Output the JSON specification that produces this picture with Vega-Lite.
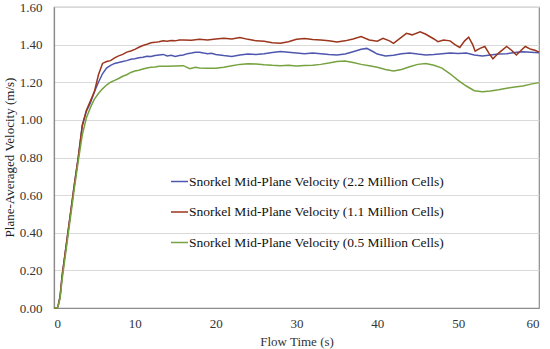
{
  "$schema": "https://vega.github.io/schema/vega-lite/v6.json",
  "width": 485,
  "height": 301,
  "autosize": {"type": "none"},
  "padding": {"left": 54, "top": 7, "right": 11, "bottom": 41},
  "background": "white",
  "config": {
    "font": "Liberation Serif, Times New Roman, serif",
    "view": {"stroke": "#8c8c8c", "strokeWidth": 1.2}
  },
  "data": {"values": [
    {"s":"a","t":0,"v":0},{"s":"a","t":0.4,"v":0},{"s":"a","t":0.5,"v":0.01},{"s":"a","t":0.75,"v":0.06},{"s":"a","t":1,"v":0.17},{"s":"a","t":1.5,"v":0.33},{"s":"a","t":2,"v":0.49},{"s":"a","t":2.5,"v":0.65},{"s":"a","t":3,"v":0.8},{"s":"a","t":3.5,"v":0.97},{"s":"a","t":4,"v":1.045},{"s":"a","t":4.5,"v":1.09},{"s":"a","t":5,"v":1.15},{"s":"a","t":5.5,"v":1.2},{"s":"a","t":6,"v":1.245},{"s":"a","t":6.5,"v":1.275},{"s":"a","t":7,"v":1.29},{"s":"a","t":7.5,"v":1.3},{"s":"a","t":8,"v":1.305},{"s":"a","t":8.5,"v":1.31},{"s":"a","t":9,"v":1.315},{"s":"a","t":9.5,"v":1.322},{"s":"a","t":10,"v":1.325},{"s":"a","t":10.5,"v":1.33},{"s":"a","t":11,"v":1.333},{"s":"a","t":11.5,"v":1.338},{"s":"a","t":12,"v":1.337},{"s":"a","t":12.5,"v":1.342},{"s":"a","t":13,"v":1.345},{"s":"a","t":13.5,"v":1.348},{"s":"a","t":14,"v":1.34},{"s":"a","t":14.5,"v":1.343},{"s":"a","t":15,"v":1.337},{"s":"a","t":15.5,"v":1.342},{"s":"a","t":16,"v":1.345},{"s":"a","t":16.5,"v":1.352},{"s":"a","t":17,"v":1.355},{"s":"a","t":17.5,"v":1.36},{"s":"a","t":18,"v":1.36},{"s":"a","t":18.5,"v":1.355},{"s":"a","t":19,"v":1.352},{"s":"a","t":19.5,"v":1.354},{"s":"a","t":20,"v":1.348},{"s":"a","t":21,"v":1.342},{"s":"a","t":22,"v":1.337},{"s":"a","t":23,"v":1.345},{"s":"a","t":24,"v":1.35},{"s":"a","t":25,"v":1.347},{"s":"a","t":26,"v":1.352},{"s":"a","t":27,"v":1.358},{"s":"a","t":28,"v":1.363},{"s":"a","t":29,"v":1.36},{"s":"a","t":30,"v":1.356},{"s":"a","t":31,"v":1.352},{"s":"a","t":32,"v":1.355},{"s":"a","t":33,"v":1.352},{"s":"a","t":34,"v":1.348},{"s":"a","t":35,"v":1.345},{"s":"a","t":36,"v":1.35},{"s":"a","t":37,"v":1.362},{"s":"a","t":38,"v":1.375},{"s":"a","t":38.7,"v":1.38},{"s":"a","t":39.5,"v":1.362},{"s":"a","t":40,"v":1.35},{"s":"a","t":41,"v":1.34},{"s":"a","t":42,"v":1.343},{"s":"a","t":43,"v":1.352},{"s":"a","t":44,"v":1.356},{"s":"a","t":45,"v":1.35},{"s":"a","t":46,"v":1.345},{"s":"a","t":47,"v":1.348},{"s":"a","t":48,"v":1.352},{"s":"a","t":49,"v":1.355},{"s":"a","t":50,"v":1.353},{"s":"a","t":51,"v":1.356},{"s":"a","t":52,"v":1.345},{"s":"a","t":53,"v":1.34},{"s":"a","t":54,"v":1.345},{"s":"a","t":55,"v":1.35},{"s":"a","t":56,"v":1.352},{"s":"a","t":57,"v":1.358},{"s":"a","t":58,"v":1.362},{"s":"a","t":59,"v":1.36},{"s":"a","t":60,"v":1.357},

    {"s":"b","t":0,"v":0},{"s":"b","t":0.4,"v":0},{"s":"b","t":0.5,"v":0.01},{"s":"b","t":0.75,"v":0.06},{"s":"b","t":1,"v":0.17},{"s":"b","t":1.5,"v":0.33},{"s":"b","t":2,"v":0.49},{"s":"b","t":2.5,"v":0.65},{"s":"b","t":3,"v":0.8},{"s":"b","t":3.5,"v":0.97},{"s":"b","t":4,"v":1.05},{"s":"b","t":4.5,"v":1.1},{"s":"b","t":5,"v":1.15},{"s":"b","t":5.5,"v":1.24},{"s":"b","t":6,"v":1.3},{"s":"b","t":6.5,"v":1.31},{"s":"b","t":7,"v":1.315},{"s":"b","t":7.5,"v":1.33},{"s":"b","t":8,"v":1.34},{"s":"b","t":8.5,"v":1.348},{"s":"b","t":9,"v":1.36},{"s":"b","t":9.5,"v":1.366},{"s":"b","t":10,"v":1.375},{"s":"b","t":10.5,"v":1.386},{"s":"b","t":11,"v":1.395},{"s":"b","t":11.5,"v":1.402},{"s":"b","t":12,"v":1.41},{"s":"b","t":12.5,"v":1.412},{"s":"b","t":13,"v":1.415},{"s":"b","t":13.5,"v":1.42},{"s":"b","t":14,"v":1.418},{"s":"b","t":14.5,"v":1.422},{"s":"b","t":15,"v":1.42},{"s":"b","t":15.5,"v":1.424},{"s":"b","t":16,"v":1.425},{"s":"b","t":17,"v":1.423},{"s":"b","t":18,"v":1.428},{"s":"b","t":19,"v":1.425},{"s":"b","t":20,"v":1.43},{"s":"b","t":21,"v":1.434},{"s":"b","t":22,"v":1.43},{"s":"b","t":23,"v":1.438},{"s":"b","t":24,"v":1.428},{"s":"b","t":25,"v":1.42},{"s":"b","t":26,"v":1.418},{"s":"b","t":27,"v":1.41},{"s":"b","t":28,"v":1.407},{"s":"b","t":29,"v":1.415},{"s":"b","t":30,"v":1.428},{"s":"b","t":31,"v":1.432},{"s":"b","t":32,"v":1.427},{"s":"b","t":33,"v":1.425},{"s":"b","t":34,"v":1.42},{"s":"b","t":35,"v":1.414},{"s":"b","t":36,"v":1.42},{"s":"b","t":37,"v":1.43},{"s":"b","t":38,"v":1.443},{"s":"b","t":39,"v":1.425},{"s":"b","t":40,"v":1.418},{"s":"b","t":40.7,"v":1.434},{"s":"b","t":41.5,"v":1.42},{"s":"b","t":42,"v":1.407},{"s":"b","t":43,"v":1.44},{"s":"b","t":43.6,"v":1.46},{"s":"b","t":44.3,"v":1.452},{"s":"b","t":45.3,"v":1.468},{"s":"b","t":46,"v":1.455},{"s":"b","t":47,"v":1.43},{"s":"b","t":47.5,"v":1.416},{"s":"b","t":48.2,"v":1.425},{"s":"b","t":49,"v":1.42},{"s":"b","t":49.6,"v":1.4},{"s":"b","t":50.2,"v":1.385},{"s":"b","t":50.8,"v":1.42},{"s":"b","t":51.3,"v":1.44},{"s":"b","t":51.8,"v":1.4},{"s":"b","t":52.1,"v":1.365},{"s":"b","t":52.7,"v":1.38},{"s":"b","t":53.3,"v":1.39},{"s":"b","t":53.8,"v":1.355},{"s":"b","t":54.3,"v":1.325},{"s":"b","t":55,"v":1.355},{"s":"b","t":56,"v":1.39},{"s":"b","t":56.6,"v":1.37},{"s":"b","t":57.2,"v":1.345},{"s":"b","t":57.8,"v":1.37},{"s":"b","t":58.3,"v":1.39},{"s":"b","t":59,"v":1.375},{"s":"b","t":59.5,"v":1.37},{"s":"b","t":60,"v":1.36},

    {"s":"c","t":0,"v":0},{"s":"c","t":0.4,"v":0},{"s":"c","t":0.5,"v":0.01},{"s":"c","t":0.75,"v":0.05},{"s":"c","t":1,"v":0.15},{"s":"c","t":1.5,"v":0.31},{"s":"c","t":2,"v":0.47},{"s":"c","t":2.5,"v":0.63},{"s":"c","t":3,"v":0.78},{"s":"c","t":3.5,"v":0.92},{"s":"c","t":4,"v":1.01},{"s":"c","t":4.5,"v":1.065},{"s":"c","t":5,"v":1.11},{"s":"c","t":5.5,"v":1.14},{"s":"c","t":6,"v":1.165},{"s":"c","t":6.5,"v":1.185},{"s":"c","t":7,"v":1.2},{"s":"c","t":7.5,"v":1.21},{"s":"c","t":8,"v":1.22},{"s":"c","t":8.5,"v":1.232},{"s":"c","t":9,"v":1.24},{"s":"c","t":9.5,"v":1.252},{"s":"c","t":10,"v":1.26},{"s":"c","t":10.5,"v":1.264},{"s":"c","t":11,"v":1.27},{"s":"c","t":11.5,"v":1.276},{"s":"c","t":12,"v":1.28},{"s":"c","t":12.5,"v":1.281},{"s":"c","t":13,"v":1.285},{"s":"c","t":14,"v":1.285},{"s":"c","t":15,"v":1.287},{"s":"c","t":16,"v":1.288},{"s":"c","t":16.8,"v":1.272},{"s":"c","t":17.5,"v":1.28},{"s":"c","t":18,"v":1.276},{"s":"c","t":19,"v":1.275},{"s":"c","t":20,"v":1.274},{"s":"c","t":21,"v":1.28},{"s":"c","t":22,"v":1.288},{"s":"c","t":23,"v":1.295},{"s":"c","t":24,"v":1.298},{"s":"c","t":25,"v":1.297},{"s":"c","t":26,"v":1.293},{"s":"c","t":27,"v":1.29},{"s":"c","t":28,"v":1.288},{"s":"c","t":29,"v":1.29},{"s":"c","t":30,"v":1.287},{"s":"c","t":31,"v":1.289},{"s":"c","t":32,"v":1.29},{"s":"c","t":33,"v":1.295},{"s":"c","t":34,"v":1.302},{"s":"c","t":35,"v":1.31},{"s":"c","t":36,"v":1.313},{"s":"c","t":37,"v":1.305},{"s":"c","t":38,"v":1.295},{"s":"c","t":39,"v":1.288},{"s":"c","t":40,"v":1.28},{"s":"c","t":41,"v":1.268},{"s":"c","t":42,"v":1.26},{"s":"c","t":43,"v":1.268},{"s":"c","t":44,"v":1.282},{"s":"c","t":45,"v":1.295},{"s":"c","t":46,"v":1.3},{"s":"c","t":47,"v":1.29},{"s":"c","t":48,"v":1.275},{"s":"c","t":49,"v":1.245},{"s":"c","t":50,"v":1.21},{"s":"c","t":51,"v":1.18},{"s":"c","t":52,"v":1.155},{"s":"c","t":53,"v":1.15},{"s":"c","t":54,"v":1.153},{"s":"c","t":55,"v":1.16},{"s":"c","t":56,"v":1.168},{"s":"c","t":57,"v":1.175},{"s":"c","t":58,"v":1.18},{"s":"c","t":59,"v":1.19},{"s":"c","t":60,"v":1.198}
  ]},
  "mark": {"type": "line", "strokeWidth": 1.5},
  "encoding": {
    "x": {
      "field": "t", "type": "quantitative",
      "scale": {"domain": [0, 60], "nice": false},
      "axis": {
        "title": "Flow Time (s)", "values": [0, 10, 20, 30, 40, 50, 60],
        "grid": false, "ticks": false, "domainColor": "#8c8c8c", "domainWidth": 1.2,
        "labelFont": "Liberation Serif, Times New Roman, serif", "labelFontSize": 13, "labelColor": "#333333", "labelPadding": 9,
        "titleFont": "Liberation Serif, Times New Roman, serif", "titleFontSize": 13, "titleFontWeight": "normal", "titleColor": "#333333", "titlePadding": 5
      }
    },
    "y": {
      "field": "v", "type": "quantitative",
      "scale": {"domain": [0, 1.6], "nice": false},
      "axis": {
        "title": "Plane-Averaged Velocity (m/s)", "values": [0, 0.2, 0.4, 0.6, 0.8, 1.0, 1.2, 1.4, 1.6],
        "format": ".2f", "grid": true, "gridColor": "#d9d9d9", "gridWidth": 1,
        "ticks": false, "domainColor": "#8c8c8c", "domainWidth": 1.2,
        "labelFont": "Liberation Serif, Times New Roman, serif", "labelFontSize": 13, "labelColor": "#333333", "labelPadding": 12,
        "titleFont": "Liberation Serif, Times New Roman, serif", "titleFontSize": 13, "titleFontWeight": "normal", "titleColor": "#222222",
        "titleX": -45, "titleY": 150, "titleBaseline": "middle", "titleAlign": "center", "titleAngle": -90
      }
    },
    "color": {
      "field": "s", "type": "nominal",
      "scale": {"domain": ["a", "b", "c"], "range": ["#4e57ad", "#9b351c", "#76a23f"]},
      "legend": {
        "title": null, "orient": "none", "legendX": 116, "legendY": 165,
        "symbolType": "stroke", "symbolSize": 289, "symbolStrokeWidth": 1.5,
        "labelFont": "Liberation Serif, Times New Roman, serif", "labelFontSize": 13.5, "labelColor": "#111111", "labelOffset": 0,
        "rowPadding": 14.5, "labelLimit": 400,
        "labelExpr": "datum.value == 'a' ? 'Snorkel Mid-Plane Velocity (2.2 Million Cells)' : datum.value == 'b' ? 'Snorkel Mid-Plane Velocity (1.1 Million Cells)' : 'Snorkel Mid-Plane Velocity (0.5 Million Cells)'"
      }
    }
  }
}
